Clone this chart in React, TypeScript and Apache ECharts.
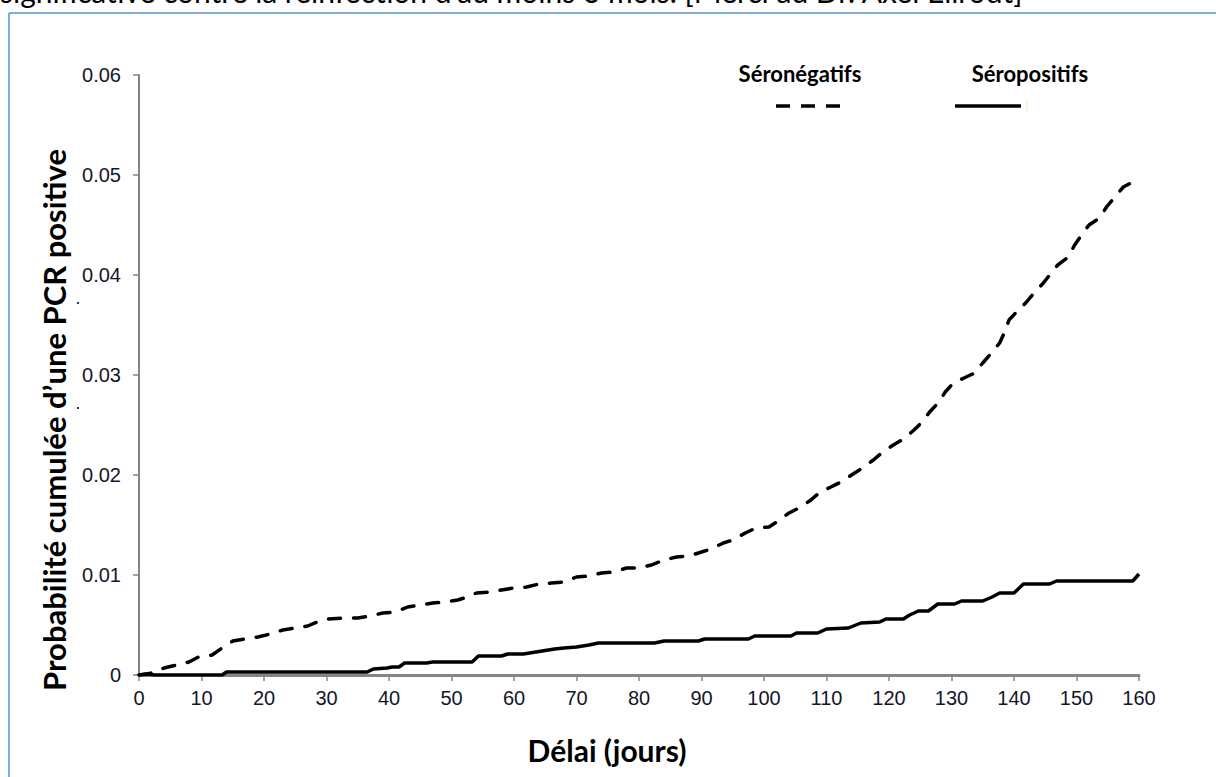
import React, { useEffect, useRef } from "react";
import * as echarts from "echarts";

// ---- Data ----
const xTicks = [0, 10, 20, 30, 40, 50, 60, 70, 80, 90, 100, 110, 120, 130, 140, 150, 160];
const yTicks = [0, 0.01, 0.02, 0.03, 0.04, 0.05, 0.06];

const negDays = [0, 2, 3, 4, 6, 8, 9.5, 11.7, 13.3, 15, 17, 19, 21, 23, 25, 27, 28.5, 30, 33, 35, 37, 39, 41, 43, 45, 47, 49, 51, 52.5, 54, 56, 58, 60, 62, 64, 66, 68, 70, 72, 74, 76, 78, 80, 82, 84, 86, 88, 90, 91.5, 93.5, 95, 97, 98.7, 100.8, 102, 104, 105.6, 107.5, 109, 110.7, 112.3, 114, 116, 117.5, 119, 120.7, 122.3, 124, 125.3, 126.5, 128, 129, 130.3, 132, 133.7, 135, 136.4, 137.7, 138.5, 139.2, 140.4, 142, 143.2, 144.7, 145.7, 147, 148.7, 149.7, 150.8, 152, 153.7, 154.8, 156, 157.5, 159];
const negValues = [0, 0.0002, 0.0004, 0.0007, 0.001, 0.0013, 0.0018, 0.002, 0.0027, 0.0034, 0.0036, 0.0038, 0.0041, 0.0045, 0.0047, 0.0049, 0.0053, 0.0056, 0.0057, 0.0057, 0.0059, 0.0062, 0.0063, 0.0068, 0.007, 0.0072, 0.0073, 0.0075, 0.0078, 0.0082, 0.0083, 0.0085, 0.0087, 0.0088, 0.0091, 0.0092, 0.0093, 0.0098, 0.0099, 0.0102, 0.0103, 0.0107, 0.0107, 0.011, 0.0115, 0.0118, 0.0119, 0.0123, 0.0126, 0.0132, 0.0135, 0.0142, 0.0147, 0.0148, 0.0153, 0.0162, 0.0167, 0.0175, 0.0183, 0.0188, 0.0193, 0.02, 0.0208, 0.0215, 0.0223, 0.023, 0.0236, 0.0245, 0.0253, 0.0263, 0.0273, 0.0283, 0.0292, 0.0297, 0.0302, 0.0312, 0.0322, 0.0332, 0.0343, 0.0355, 0.0363, 0.0373, 0.0382, 0.0392, 0.04, 0.041, 0.0418, 0.043, 0.044, 0.045, 0.0457, 0.0468, 0.0477, 0.0488, 0.0493];

const posDays = [0, 1.5, 2.5, 13.3, 14, 36.5, 37.5, 39.7, 40.5, 41.6, 42.5, 46, 47, 53.3, 54.3, 58, 59, 61.5, 62.5, 64.5, 66.5, 68, 70, 72, 73.5, 82.5, 84, 89.5, 90.5, 97.5, 98.5, 104.3, 105.2, 108.6, 110, 113.5, 115.5, 118.5, 119.5, 122.3, 123.3, 124.7, 126.3, 127.8, 130.5, 131.6, 135, 136.5, 137.7, 140, 141.5, 145.7, 146.8, 159, 160];
const posValues = [0, 0.0001, 0, 0, 0.0003, 0.0003, 0.0006, 0.0007, 0.0008, 0.0008, 0.0012, 0.0012, 0.0013, 0.0013, 0.0019, 0.0019, 0.0021, 0.0021, 0.0022, 0.0024, 0.0026, 0.0027, 0.0028, 0.003, 0.0032, 0.0032, 0.0034, 0.0034, 0.0036, 0.0036, 0.0039, 0.0039, 0.0042, 0.0042, 0.0046, 0.0047, 0.0052, 0.0053, 0.0056, 0.0056, 0.006, 0.0064, 0.0064, 0.0071, 0.0071, 0.0074, 0.0074, 0.0078, 0.0082, 0.0082, 0.0091, 0.0091, 0.0094, 0.0094, 0.0101];

const seriesNames = ["Séronégatifs", "Séropositifs"];
const xTitle = "Délai (jours)";
const yTitle = "Probabilité cumulée d’une PCR positive";
const topText = "significative contre la réinfection d’au moins 6 mois. [Merci au Dr. Axel Ellrodt]";

export default function App() {
  const ref = useRef<HTMLDivElement>(null);
  useEffect(() => {
    if (!ref.current) return;
    const chart = echarts.init(ref.current, null, { renderer: "svg" });
    const bold = "Lato, 'Open Sans', sans-serif";
    const option: any = {
      animation: false,
      backgroundColor: "#ffffff",
      grid: { left: 139, right: 77, top: 75, bottom: 102, containLabel: false },
      xAxis: {
        type: "value",
        min: xTicks[0],
        max: xTicks[xTicks.length - 1],
        interval: 10,
        axisLine: { show: true, lineStyle: { color: "#858585", width: 3 } },
        axisTick: { show: true, length: 6, lineStyle: { color: "#858585", width: 1.5 } },
        axisLabel: { color: "#15152a", fontSize: 20, fontFamily: "'Liberation Sans', Arial, sans-serif", margin: 13 },
        splitLine: { show: false },
      },
      yAxis: {
        type: "value",
        min: yTicks[0],
        max: yTicks[yTicks.length - 1],
        interval: 0.01,
        axisLine: { show: true, lineStyle: { color: "#858585", width: 2 } },
        axisTick: { show: true, length: 6, lineStyle: { color: "#858585", width: 1.5 } },
        axisLabel: {
          color: "#15152a",
          fontSize: 20,
          fontFamily: "'Liberation Sans', Arial, sans-serif",
          margin: 18,
          formatter: (v: number) => (v === 0 ? "0" : v.toFixed(2)),
        },
        splitLine: { show: false },
      },
      series: [
        {
          name: seriesNames[0],
          type: "line",
          data: negDays.map((d, i) => [d, negValues[i]]),
          showSymbol: false,
          symbol: "none",
          lineStyle: { color: "#000", width: 3.5, type: [12, 13], cap: "round" },
        },
        {
          name: seriesNames[1],
          type: "line",
          data: posDays.map((d, i) => [d, posValues[i]]),
          showSymbol: false,
          symbol: "none",
          lineStyle: { color: "#000", width: 3.5, type: "solid" },
        },
      ],
      graphic: [
        {
          type: "text",
          x: 0,
          y: 6,
          style: {
            text: topText,
            font: "30px Lato, 'Open Sans', sans-serif",
            fill: "#000",
            textAlign: "left",
            textVerticalAlign: "bottom",
          },
        },
        { type: "line", shape: { x1: 9, y1: 13, x2: 1216, y2: 13 }, style: { stroke: "#7eaee0", lineWidth: 2 } },
        { type: "line", shape: { x1: 9, y1: 13, x2: 9, y2: 777 }, style: { stroke: "#7eaee0", lineWidth: 2 } },
        {
          type: "text",
          x: 607,
          y: 750,
          style: { text: xTitle, font: `bold 30px ${bold}`, fill: "#000", textAlign: "center", textVerticalAlign: "middle" },
        },
        {
          type: "text",
          x: 54,
          y: 420,
          rotation: Math.PI / 2,
          style: { text: yTitle, font: `bold 31px ${bold}`, fill: "#000", textAlign: "center", textVerticalAlign: "middle" },
        },
        {
          type: "text",
          x: 800,
          y: 73,
          style: { text: seriesNames[0], font: `bold 22px ${bold}`, fill: "#000", textAlign: "center", textVerticalAlign: "middle" },
        },
        {
          type: "text",
          x: 1030,
          y: 73,
          style: { text: seriesNames[1], font: `bold 22px ${bold}`, fill: "#000", textAlign: "center", textVerticalAlign: "middle" },
        },
        {
          type: "line",
          shape: { x1: 776, y1: 106, x2: 840, y2: 106 },
          style: { stroke: "#000", lineWidth: 3.5, lineDash: [14, 11] },
        },
        {
          type: "line",
          shape: { x1: 955, y1: 106, x2: 1021, y2: 106 },
          style: { stroke: "#000", lineWidth: 3.5 },
        },
        { type: "line", shape: { x1: 1027, y1: 99, x2: 1027, y2: 113 }, style: { stroke: "#f5e6c8", lineWidth: 1 } },
        { type: "rect", shape: { x: 77, y: 302, width: 2, height: 2 }, style: { fill: "#1f3864" } },
        { type: "rect", shape: { x: 77, y: 407, width: 2, height: 2 }, style: { fill: "#1f3864" } },
      ],
    };
    chart.setOption(option);
    return () => chart.dispose();
  }, []);
  return (
    <div
      ref={ref}
      style={{ position: "fixed", left: 0, top: 0, width: 1216, height: 777, background: "#fff" }}
    />
  );
}
